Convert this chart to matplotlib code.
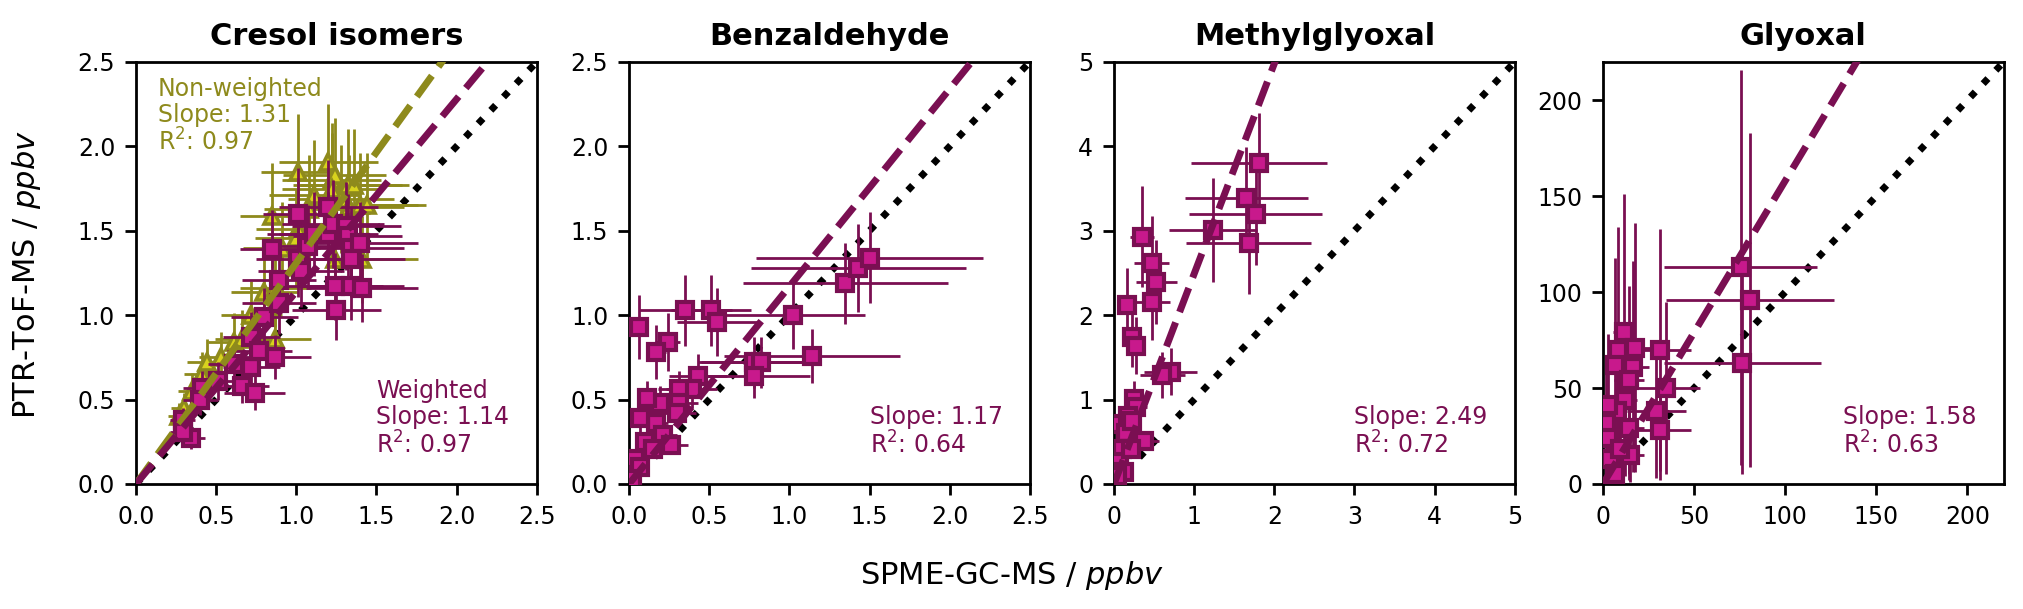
import numpy as np
import matplotlib.pyplot as plt

# Cresol isomers, weighted (squares) and non-weighted (triangles)
cres_x_w = [0.29, 0.34, 0.29, 0.41, 0.40, 0.51, 0.61, 0.66, 0.74, 0.72, 0.72, 0.77, 0.87, 0.80, 0.89, 0.89, 0.85,
            1.01, 1.03, 1.07, 1.11, 1.01, 1.20, 1.20, 1.23, 1.31, 1.32, 1.34, 1.40, 1.34, 1.24, 1.34, 1.41, 1.25]
cres_y_w = [0.38, 0.27, 0.31, 0.57, 0.50, 0.61, 0.71, 0.58, 0.54, 0.69, 0.87, 0.79, 0.75, 0.99, 1.07, 1.21, 1.39,
            1.33, 1.26, 1.41, 1.48, 1.60, 1.64, 1.48, 1.54, 1.53, 1.47, 1.40, 1.43, 1.33, 1.17, 1.17, 1.16, 1.03]
cres_xerr_w = [0.08, 0.09, 0.08, 0.12, 0.11, 0.14, 0.16, 0.17, 0.19, 0.18, 0.18, 0.20, 0.22, 0.21, 0.23, 0.23, 0.20,
               0.26, 0.27, 0.28, 0.29, 0.22, 0.31, 0.31, 0.32, 0.34, 0.34, 0.33, 0.36, 0.34, 0.30, 0.33, 0.35, 0.28]
cres_yerr_w = [0.07, 0.06, 0.06, 0.10, 0.09, 0.11, 0.12, 0.10, 0.10, 0.12, 0.15, 0.14, 0.13, 0.17, 0.18, 0.20, 0.23,
               0.22, 0.21, 0.24, 0.25, 0.27, 0.28, 0.25, 0.26, 0.26, 0.25, 0.24, 0.24, 0.22, 0.20, 0.20, 0.20, 0.18]

cres_x_nw = [0.30, 0.41, 0.44, 0.53, 0.61, 0.66, 0.72, 0.80, 0.87, 0.87, 0.85, 1.01, 1.01, 1.00, 1.11, 1.08,
             1.20, 1.22, 1.24, 1.22, 1.32, 1.36, 1.28, 1.33, 1.40, 1.44, 1.24, 1.41, 0.91, 0.27, 0.35]
cres_y_nw = [0.45, 0.65, 0.72, 0.75, 0.84, 0.86, 1.00, 1.14, 1.16, 0.86, 1.59, 1.85, 1.51, 1.46, 1.71, 1.63,
             1.91, 1.80, 1.83, 1.75, 1.77, 1.77, 1.69, 1.64, 1.65, 1.65, 1.33, 1.33, 1.40, 0.40, 0.55]
cres_xerr_nw = [0.08, 0.11, 0.12, 0.14, 0.16, 0.17, 0.19, 0.21, 0.22, 0.22, 0.20, 0.23, 0.26, 0.26, 0.28, 0.28,
                0.31, 0.31, 0.32, 0.31, 0.34, 0.34, 0.33, 0.34, 0.36, 0.37, 0.30, 0.35, 0.24, 0.07, 0.09]
cres_yerr_nw = [0.09, 0.13, 0.14, 0.15, 0.17, 0.17, 0.20, 0.23, 0.23, 0.17, 0.31, 0.34, 0.30, 0.29, 0.33, 0.32,
                0.34, 0.34, 0.34, 0.33, 0.33, 0.33, 0.32, 0.31, 0.31, 0.31, 0.26, 0.26, 0.27, 0.08, 0.11]

# Benzaldehyde
benz_x = [0.06, 0.35, 0.51, 0.55, 0.24, 0.17, 1.02, 1.35, 1.43, 1.50, 1.14, 0.78, 0.82, 0.78, 0.43,
          0.39, 0.31, 0.31, 0.19, 0.11, 0.17, 0.07, 0.30, 0.21, 0.26, 0.10, 0.04, 0.07, 0.02, 0.15]
benz_y = [0.93, 1.03, 1.03, 0.96, 0.84, 0.78, 1.00, 1.19, 1.28, 1.34, 0.76, 0.72, 0.72, 0.64, 0.64,
          0.56, 0.56, 0.48, 0.48, 0.51, 0.36, 0.39, 0.42, 0.29, 0.23, 0.25, 0.15, 0.10, 0.03, 0.21]
benz_xerr = [0.04, 0.29, 0.25, 0.25, 0.08, 0.06, 0.45, 0.64, 0.67, 0.71, 0.55, 0.35, 0.37, 0.35, 0.18,
             0.16, 0.13, 0.12, 0.08, 0.05, 0.07, 0.04, 0.12, 0.09, 0.11, 0.04, 0.02, 0.03, 0.01, 0.06]
benz_yerr = [0.19, 0.21, 0.21, 0.20, 0.17, 0.16, 0.20, 0.24, 0.26, 0.27, 0.16, 0.15, 0.15, 0.13, 0.13,
             0.11, 0.11, 0.10, 0.10, 0.10, 0.07, 0.08, 0.08, 0.06, 0.05, 0.05, 0.03, 0.02, 0.01, 0.04]

# Methylglyoxal
mgly_x = [1.81, 1.65, 1.77, 1.23, 1.68, 0.35, 0.47, 0.53, 0.48, 0.16, 0.22, 0.27, 0.71, 0.60, 0.25,
          0.28, 0.38, 0.08, 0.15, 0.17, 0.10, 0.06, 0.13, 0.04, 0.23, 0.21]
mgly_y = [3.80, 3.39, 3.20, 3.01, 2.85, 2.93, 2.62, 2.39, 2.16, 2.12, 1.74, 1.64, 1.33, 1.29, 1.01,
          0.91, 0.51, 0.71, 0.60, 0.81, 0.42, 0.26, 0.14, 0.10, 0.75, 0.42]
mgly_xerr = [0.85, 0.77, 0.83, 0.55, 0.78, 0.15, 0.22, 0.25, 0.22, 0.07, 0.08, 0.07, 0.33, 0.28, 0.12,
             0.13, 0.18, 0.04, 0.07, 0.08, 0.05, 0.03, 0.06, 0.02, 0.11, 0.10]
mgly_yerr = [0.60, 0.60, 0.60, 0.62, 0.60, 0.60, 0.55, 0.50, 0.46, 0.44, 0.36, 0.34, 0.28, 0.27, 0.21,
             0.19, 0.11, 0.15, 0.12, 0.17, 0.09, 0.05, 0.03, 0.02, 0.16, 0.09]

# Glyoxal
gly_x = [75.7, 80.7, 76.5, 31.2, 34.5, 29.3, 31.2, 11.4, 8.3, 17.4, 6.4, 16.5, 14.3, 11.9, 7.7, 14.3,
         2.8, 1.8, 2.8, 3.7, 14.7, 6.4, 9.2]
gly_y = [113, 96, 63, 70, 50, 38, 28, 79, 70, 71, 62, 61, 54, 44, 38, 29, 41, 32, 24, 13, 15, 5, 18]
gly_xerr = [42, 46, 43, 17, 19, 16, 17, 6, 5, 9, 3.5, 9, 8, 6.5, 4, 8, 1.5, 1, 1.5, 2, 8, 3.5, 5]
gly_yerr = [103, 87, 58, 63, 45, 35, 26, 72, 64, 65, 56, 55, 49, 40, 35, 27, 37, 29, 22, 12, 14, 5, 16]

titles = ['Cresol isomers', 'Benzaldehyde', 'Methylglyoxal', 'Glyoxal']
limits = [2.5, 2.5, 5, 220]
slopes_w = [1.14, 1.17, 2.49, 1.58]
r2_w = [0.97, 0.64, 0.72, 0.63]
slope_nw = 1.31
r2_nw = 0.97

purple = '#7A0F52'
magenta = '#C8198C'
olive = '#8E8A1C'
yellow = '#D8D21E'

plt.rcParams['font.family'] = 'DejaVu Sans'
plt.rcParams['font.size'] = 9

fig = plt.figure(figsize=(10.12, 3.045), dpi=200)
lefts = [0.0672, 0.3108, 0.5504, 0.792]
axes = [fig.add_axes([l, 0.2053, 0.198, 0.693]) for l in lefts]

data = [(cres_x_w, cres_y_w, cres_xerr_w, cres_yerr_w),
        (benz_x, benz_y, benz_xerr, benz_yerr),
        (mgly_x, mgly_y, mgly_xerr, mgly_yerr),
        (gly_x, gly_y, gly_xerr, gly_yerr)]

for i, ax in enumerate(axes):
    lim = limits[i]
    line = np.array([0, lim])
    ax.plot(line, line, color='k', ls=':', lw=2.5, zorder=1)
    if i == 0:
        ax.errorbar(cres_x_nw, cres_y_nw, xerr=cres_xerr_nw, yerr=cres_yerr_nw, fmt='^',
                    color=olive, mfc=yellow, mec=olive, ms=6, mew=1.3, elinewidth=1.0, zorder=2)
        ax.plot(line, slope_nw * line, color=olive, ls='--', lw=2.5, zorder=4)
        ax.text(0.055, 0.965, 'Non-weighted\nSlope: %.2f\nR$^2$: %.2f' % (slope_nw, r2_nw),
                transform=ax.transAxes, color=olive, va='top', ha='left', fontsize=8.5,
                linespacing=1.1)
    x, y, xe, ye = data[i]
    ax.errorbar(x, y, xerr=xe, yerr=ye, fmt='s', color=purple, mfc=magenta, mec=purple,
                ms=5.5, mew=1.5, elinewidth=1.0, zorder=3)
    ax.plot(line, slopes_w[i] * line, color=purple, ls='--', lw=2.5, zorder=4)
    label = 'Slope: %.2f\nR$^2$: %.2f' % (slopes_w[i], r2_w[i])
    if i == 0:
        label = 'Weighted\n' + label
    ax.text(0.6, 0.06, label, transform=ax.transAxes, color=purple, va='bottom', ha='left',
            fontsize=8.5, linespacing=1.1)
    ax.set_xlim(0, lim)
    ax.set_ylim(0, lim)
    ax.set_title(titles[i], fontweight='bold', fontsize=11)
    ax.tick_params(labelsize=8.5, width=1, length=4)
    for s in ax.spines.values():
        s.set_linewidth(1.0)

for ax in axes[:2]:
    ax.set_xticks(np.arange(0, 2.51, 0.5))
    ax.set_yticks(np.arange(0, 2.51, 0.5))
axes[2].set_xticks(range(0, 6))
axes[2].set_yticks(range(0, 6))
axes[3].set_xticks(range(0, 201, 50))
axes[3].set_yticks(range(0, 201, 50))

fig.text(0.5, 0.055, 'SPME-GC-MS / $\\it{ppbv}$', ha='center', va='center', fontsize=11)
fig.text(0.013, 0.55, 'PTR-ToF-MS / $\\it{ppbv}$', ha='center', va='center', rotation=90, fontsize=11)

plt.savefig('out.png', dpi=200)
